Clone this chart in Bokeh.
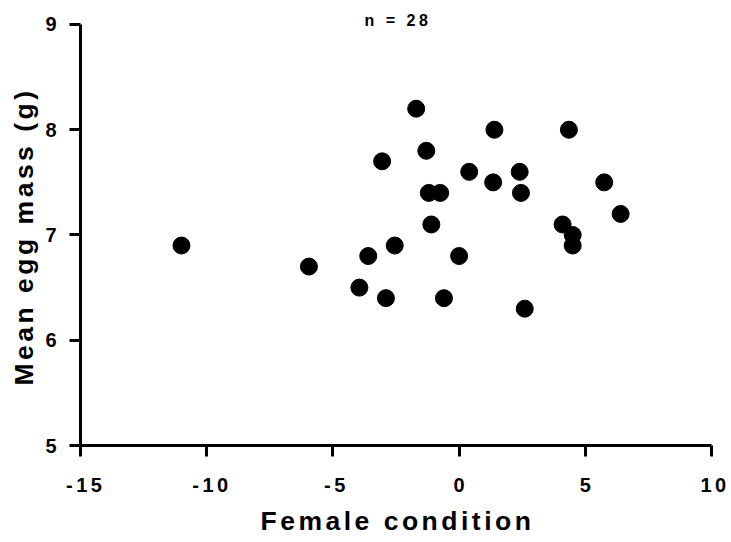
from bokeh.plotting import figure
from bokeh.models import Range1d, FixedTicker, Label, Title, ColumnDataSource
from bokeh.embed import file_html
from bokeh.resources import INLINE

# Data
female_condition = [-11.0, -5.95, -3.95, -3.6, -3.05, -2.9, -2.55, -1.7, -1.3, -1.2,
                    -1.1, -0.75, -0.6, 0.0, 0.4, 1.35, 1.4, 2.4, 2.45, 2.6,
                    4.1, 4.35, 4.5, 4.5, 5.75, 6.4]
mean_egg_mass = [6.9, 6.7, 6.5, 6.8, 7.7, 6.4, 6.9, 8.2, 7.8, 7.4,
                 7.1, 7.4, 6.4, 6.8, 7.6, 7.5, 8.0, 7.6, 7.4, 6.3,
                 7.1, 8.0, 7.0, 6.9, 7.5, 7.2]
x_ticks = [-15, -10, -5, 0, 5, 10]
y_ticks = [5, 6, 7, 8, 9]
title_text = "n = 28"
x_label = "Female condition"
y_label = "Mean egg mass (g)"

FONT = "Liberation Sans"

# frame reaches the top edge so the "n = 28" label can sit above the y = 9 end of the axis
p = figure(
    x_range=Range1d(-15, 10), y_range=Range1d(5, 9.228),
    frame_width=631, frame_height=445,
    min_border_left=80, min_border_right=20, min_border_top=0, min_border_bottom=97,
    output_backend="svg", toolbar_location=None,
)
p.styles = {"letter-spacing": "3.5px"}
p.outline_line_color = None
p.xgrid.visible = False
p.ygrid.visible = False
p.background_fill_color = "white"
p.border_fill_color = "white"

src = ColumnDataSource(dict(x=female_condition, y=mean_egg_mass))
p.scatter("x", "y", source=src, size=17, fill_color="black", line_color="black")

for ax in (p.xaxis[0], p.yaxis[0]):
    ax.axis_line_width = 3
    ax.axis_line_color = "black"
    ax.major_tick_line_width = 3
    ax.major_tick_line_color = "black"
    ax.major_tick_out = 11
    ax.major_tick_in = 0
    ax.minor_tick_out = 0
    ax.minor_tick_in = 0
    ax.major_label_text_font = FONT
    ax.major_label_text_font_style = "bold"
    ax.major_label_text_font_size = "20px"
    ax.major_label_text_color = "black"

p.xaxis[0].ticker = FixedTicker(ticks=x_ticks)
p.yaxis[0].ticker = FixedTicker(ticks=y_ticks)
p.xaxis[0].major_label_overrides = {t: str(t) for t in x_ticks}
p.yaxis[0].major_label_overrides = {t: str(t) for t in y_ticks}
p.yaxis[0].bounds = (5, 9)
p.xaxis[0].major_label_standoff = 21
p.yaxis[0].major_label_standoff = 13

p.add_layout(Title(text=x_label, align="left", offset=180, standoff=18,
                   text_font=FONT, text_font_style="bold", text_font_size="26.5px",
                   text_color="black"), "below")
p.add_layout(Title(text=y_label, align="left", offset=60, standoff=8,
                   text_font=FONT, text_font_style="bold", text_font_size="26.5px",
                   text_color="black"), "left")
p.add_layout(Label(x=-15, y=9, x_offset=284, y_offset=4, text=title_text,
                   text_font=FONT, text_font_style="bold", text_font_size="16px",
                   text_align="left", text_baseline="middle", text_color="black"))

open("out.html", "w").write(file_html(p, INLINE))
